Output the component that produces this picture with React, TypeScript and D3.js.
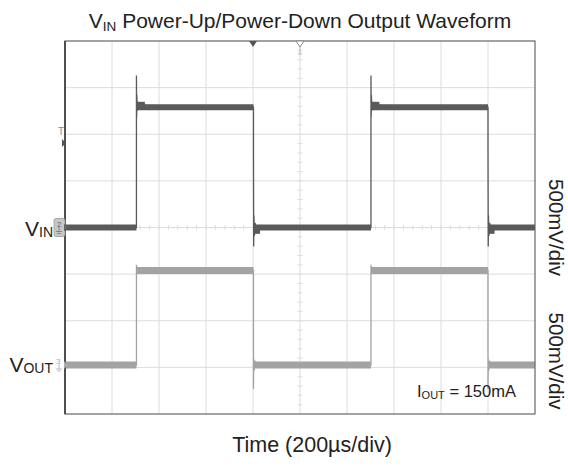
import React from 'react';
import * as d3 from 'd3';

// Scope settings
const US_PER_DIV = 200;
const MV_PER_DIV = 500;
const X_DIVS = 10;
const Y_DIVS = 8;
const TIME_RANGE = [0, 2000]; // µs
// channel ground offsets, in divisions from screen centre
const VIN_OFFSET_DIV = 0;
const VOUT_OFFSET_DIV = -2.95;

// VIN trace (time µs, mV) – thin trace incl. edges and ringing
const vinTrace: [number, number][] = [
  [0, 0], [304, 0], [304, 1630], [305, 1180], [306, 1420], [307, 1250], [309, 1350], [312, 1300], [330, 1310],
  [802, 1290], [802, 880], [803, -205], [804, 130], [806, -90], [809, 50], [814, -30], [830, 0],
  [1302, 0], [1302, 1630], [1303, 1180], [1304, 1420], [1305, 1250], [1307, 1350], [1310, 1300], [1328, 1310],
  [1800, 1290], [1800, 880], [1801, -205], [1802, 130], [1804, -90], [1807, 50], [1812, -30], [1828, 0],
  [2000, 0],
];
// VIN flat levels drawn as the thick persistence band: [start µs, end µs, mV]
const vinBands: [number, number, number][] = [
  [0, 304, 0], [304, 802, 1290], [802, 1302, 0], [1302, 1800, 1290], [1800, 2000, 0],
];
const vinSettle: [number, number, number][] = [
  [305, 340, 1305], [803, 830, -25], [1303, 1338, 1305], [1801, 1828, -25],
];

// VOUT trace
const voutTrace: [number, number][] = [
  [0, 0], [304, 0], [304, 1075], [306, 990], [309, 1040], [314, 1020],
  [802, 1015], [802, -257], [803, 70], [805, -60], [808, 45], [815, 0],
  [1302, 0], [1302, 1075], [1304, 990], [1307, 1040], [1312, 1020],
  [1800, 1015], [1800, -257], [1801, 70], [1803, -60], [1806, 45], [1813, 0],
  [2000, 0],
];
const voutBands: [number, number, number][] = [
  [0, 304, 0], [304, 802, 1015], [802, 1302, 0], [1302, 1800, 1015], [1800, 2000, 0],
];

const TITLE_SUB = 'IN';
const TITLE_REST = ' Power-Up/Power-Down Output Waveform';
const X_LABEL = 'Time (200µs/div)';
const SCALE_LABEL = '500mV/div';

export default function App() {
  const W = 568, H = 466;
  const m = { left: 65, right: 535, top: 41, bottom: 414 };
  const x = d3.scaleLinear().domain(TIME_RANGE).range([m.left, m.right]);
  const yDiv = d3.scaleLinear().domain([-Y_DIVS / 2, Y_DIVS / 2]).range([m.bottom, m.top]);
  const divW = (m.right - m.left) / X_DIVS;
  const divH = (m.bottom - m.top) / Y_DIVS;
  const cx = x((TIME_RANGE[0] + TIME_RANGE[1]) / 2);
  const cy = yDiv(0);

  const yOf = (off: number) => (mv: number) => yDiv(off + mv / MV_PER_DIV);
  const yVin = yOf(VIN_OFFSET_DIV);
  const yVout = yOf(VOUT_OFFSET_DIV);

  const lineVin = d3.line<[number, number]>().x(d => x(d[0])).y(d => yVin(d[1]));
  const lineVout = d3.line<[number, number]>().x(d => x(d[0])).y(d => yVout(d[1]));

  const vGrid = d3.range(1, X_DIVS).map(i => m.left + i * divW);
  const hGrid = d3.range(1, Y_DIVS).map(i => m.top + i * divH);
  const hTicks = d3.range(1, X_DIVS * 5).map(i => m.left + i * divW / 5);
  const vTicks = d3.range(1, Y_DIVS * 5).map(i => m.top + i * divH / 5);

  const vinColor = '#5a5a5a';
  const voutColor = '#a3a3a3';
  const font = 'Arial, "Liberation Sans", Helvetica, sans-serif';

  const vinY0 = yVin(0);
  const voutY0 = yVout(0);
  const trigX = x(US_PER_DIV * 4);

  return (
    <svg width={W} height={H} style={{ position: 'absolute', left: 0, top: 0 }} fontFamily={font}>
      <rect x={0} y={0} width={W} height={H} fill="#fff" />
      {/* grid */}
      {vGrid.map((gx, i) => (
        <line key={'vg' + i} x1={gx} x2={gx} y1={m.top} y2={m.bottom} stroke="#dcdcdc" strokeWidth={1} />
      ))}
      {hGrid.map((gy, i) => (
        <line key={'hg' + i} x1={m.left} x2={m.right} y1={gy} y2={gy} stroke="#dcdcdc" strokeWidth={1} />
      ))}
      {hTicks.map((tx, i) => (
        <line key={'ht' + i} x1={tx} x2={tx} y1={cy - 2.5} y2={cy + 2.5} stroke="#dedede" strokeWidth={1} />
      ))}
      {vTicks.map((ty, i) => (
        <line key={'vt' + i} x1={cx - 2.5} x2={cx + 2.5} y1={ty} y2={ty} stroke="#dedede" strokeWidth={1} />
      ))}

      {/* VOUT */}
      <path d={lineVout(voutTrace) || ''} fill="none" stroke={voutColor} strokeWidth={1.3} />
      {voutBands.map((b, i) => (
        <line key={'vob' + i} x1={x(b[0])} x2={x(b[1])} y1={yVout(b[2])} y2={yVout(b[2])} stroke={voutColor} strokeWidth={7} />
      ))}

      {/* VIN */}
      <path d={lineVin(vinTrace) || ''} fill="none" stroke={vinColor} strokeWidth={1.3} />
      {vinBands.map((b, i) => (
        <line key={'vib' + i} x1={x(b[0])} x2={x(b[1])} y1={yVin(b[2])} y2={yVin(b[2])} stroke={vinColor} strokeWidth={6} />
      ))}
      {vinSettle.map((b, i) => (
        <line key={'vis' + i} x1={x(b[0])} x2={x(b[1])} y1={yVin(b[2])} y2={yVin(b[2])} stroke={vinColor} strokeWidth={8} />
      ))}

      {/* frame */}
      <rect x={m.left} y={m.top} width={m.right - m.left} height={m.bottom - m.top} fill="none" stroke="#666" strokeWidth={1.2} />
      <line x1={m.left} x2={m.left} y1={m.top} y2={m.bottom} stroke="#333" strokeWidth={1.5} />

      {/* trigger markers */}
      <path d={`M${trigX - 4},${m.top} L${trigX + 4},${m.top} L${trigX},${m.top + 6} Z`} fill="#555" />
      <path d={`M${cx - 4},${m.top} L${cx + 4},${m.top} L${cx},${m.top + 6} Z`} fill="#fff" stroke="#888" strokeWidth={1} />
      <line x1={cx - 2} x2={cx + 2} y1={m.top + 13} y2={m.top + 13} stroke="#bbb" />
      <line x1={cx} x2={cx} y1={m.top + 6} y2={m.top + 13} stroke="#bbb" />
      <text x={m.left - 1} y={135} fontSize={10} fill="#888" textAnchor="end">T</text>
      <path d={`M${m.left - 3},${139} L${m.left + 1},${143} L${m.left - 3},${147} Z`} fill="#555" />

      {/* channel markers */}
      <rect x={m.left - 11} y={vinY0 - 9} width={11} height={18} rx={2} fill="#c8c8c8" stroke="#999" strokeWidth={0.8} />
      <text x={m.left - 8} y={vinY0 - 1} fontSize={8} fill="#666">2</text>
      <path d={`M${m.left - 6},${vinY0 - 1} V${vinY0 + 4} M${m.left - 9},${vinY0 + 4} H${m.left - 3} M${m.left - 8},${vinY0 + 6} H${m.left - 4}`} stroke="#777" strokeWidth={0.8} fill="none" />
      <path d={`M${m.left - 1},${vinY0 - 4} L${m.left + 3},${vinY0} L${m.left - 1},${vinY0 + 4} Z`} fill="#666" />
      <text x={m.left - 9} y={voutY0 - 1} fontSize={8} fill="#aaa">3</text>
      <path d={`M${m.left - 6},${voutY0 - 1} V${voutY0 + 4} M${m.left - 9},${voutY0 + 4} H${m.left - 3} M${m.left - 8},${voutY0 + 6} H${m.left - 4}`} stroke="#aaa" strokeWidth={0.8} fill="none" />
      <path d={`M${m.left - 1},${voutY0 - 4} L${m.left + 3},${voutY0} L${m.left - 1},${voutY0 + 4} Z`} fill="#aaa" />

      {/* texts */}
      <text x={(m.left + m.right) / 2} y={28} fontSize={21} textAnchor="middle" fill="#222">
        V<tspan fontSize={13.5} dy={3}>{TITLE_SUB}</tspan><tspan dy={-3}>{TITLE_REST}</tspan>
      </text>
      <text x={m.left - 12} y={vinY0 + 8} fontSize={21} textAnchor="end" fill="#222">
        V<tspan fontSize={14} dy={1}>IN</tspan>
      </text>
      <text x={m.left - 12} y={voutY0 + 7} fontSize={21} textAnchor="end" fill="#222">
        V<tspan fontSize={14} dy={1}>OUT</tspan>
      </text>
      <text x={417} y={397} fontSize={16.5} fill="#222">
        I<tspan fontSize={11} dy={2}>OUT</tspan><tspan dy={-2}> = 150mA</tspan>
      </text>
      <text x={312} y={452} fontSize={21.5} textAnchor="middle" fill="#222">{X_LABEL}</text>
      <text transform={`translate(549,${vinY0}) rotate(90)`} fontSize={20.5} textAnchor="middle" fill="#222">{SCALE_LABEL}</text>
      <text transform={`translate(549,${voutY0 - 4}) rotate(90)`} fontSize={20.5} textAnchor="middle" fill="#222">{SCALE_LABEL}</text>
    </svg>
  );
}
